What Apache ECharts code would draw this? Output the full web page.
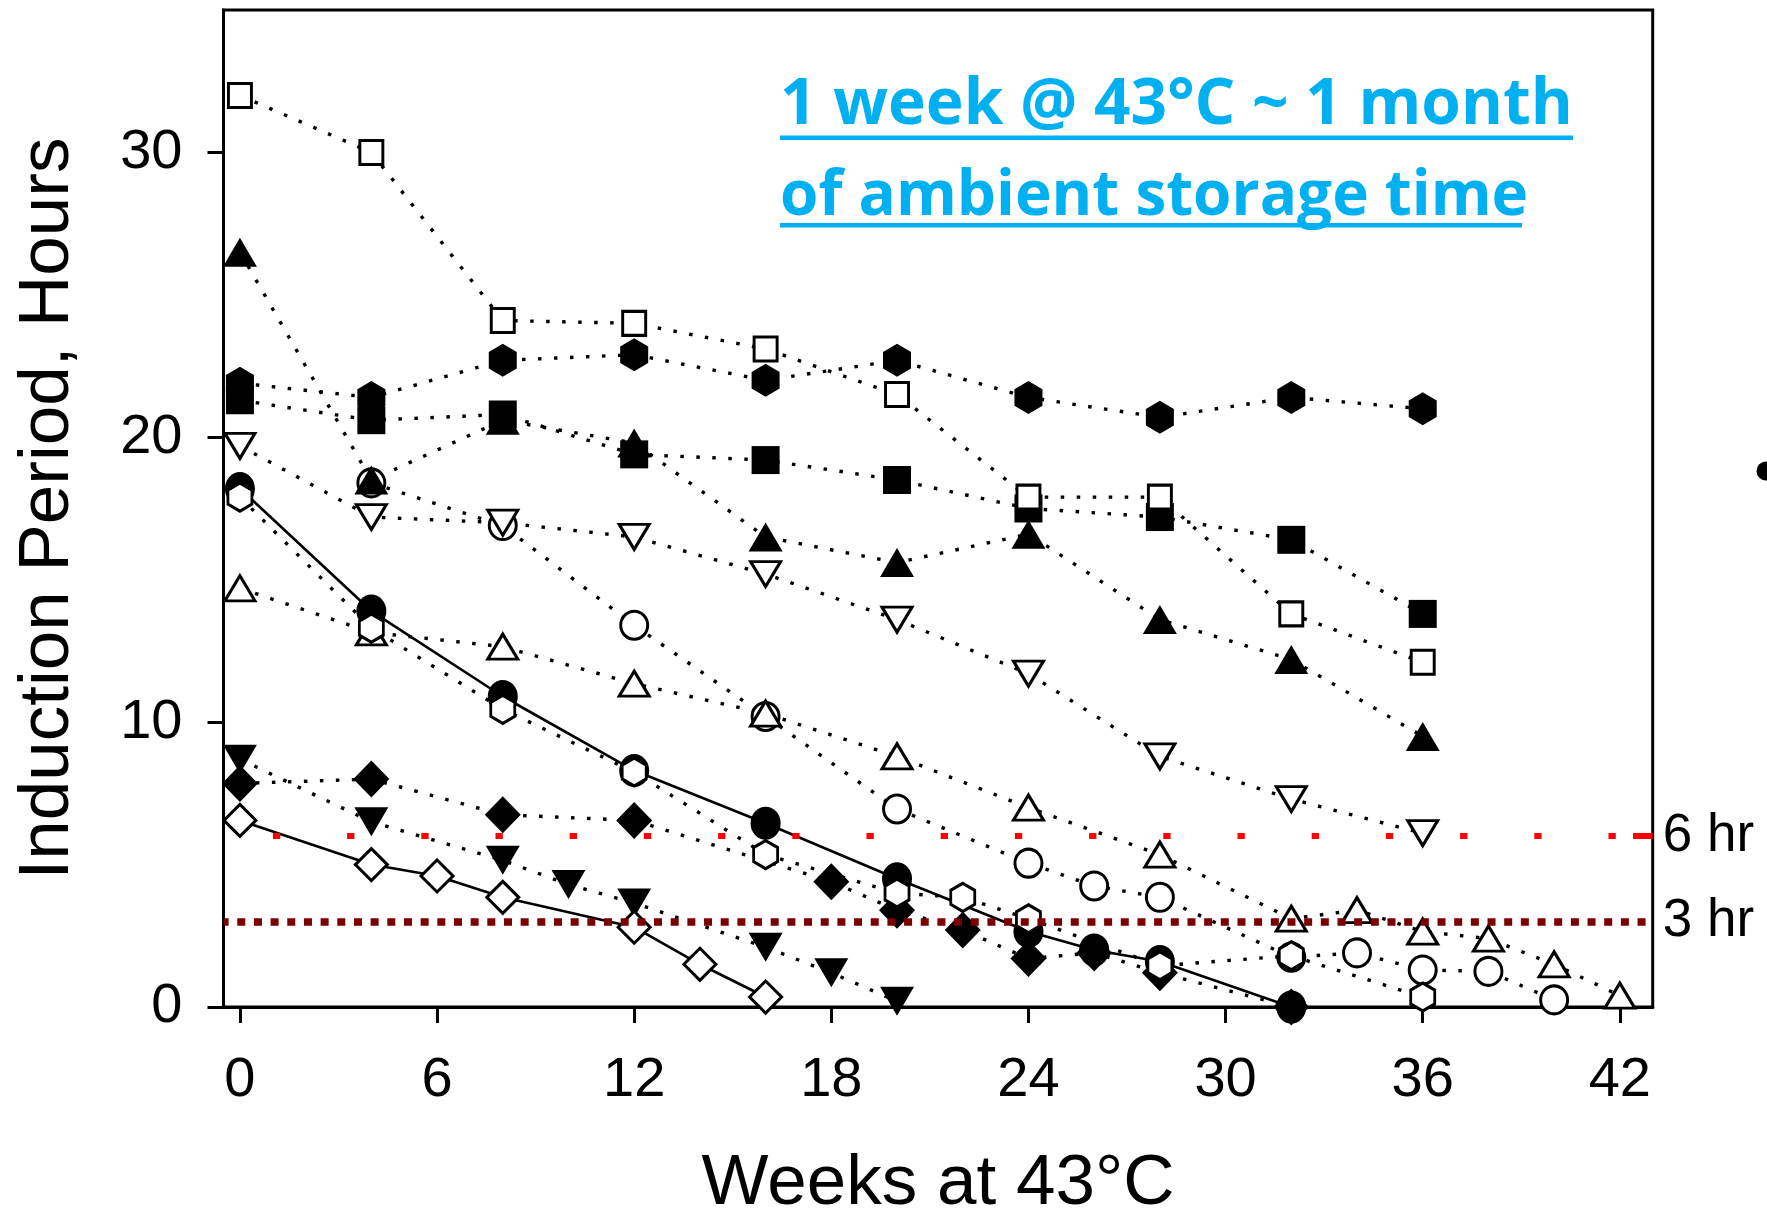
<!DOCTYPE html>
<html><head><meta charset="utf-8">
<script src="https://cdn.jsdelivr.net/npm/echarts@6/dist/echarts.min.js"></script>
<style>html,body{margin:0;padding:0;background:#fff}#c{width:1767px;height:1216px}</style>
</head><body><div id="c"></div>
<script>
// ---- data (weeks at 43°C, induction period in hours) ----
const xTicks = [0, 6, 12, 18, 24, 30, 36, 42];
const yTicks = [0, 10, 20, 30];

const sqOpenX = [0, 4, 8, 12, 16, 20, 24, 28, 32, 36];
const sqOpenY = [32.0, 30.0, 24.1, 24.0, 23.1, 21.5, 17.9, 17.9, 13.8, 12.1];

const hexFilledX = [0, 4, 8, 12, 16, 20, 24, 28, 32, 36];
const hexFilledY = [21.9, 21.4, 22.7, 22.9, 22.0, 22.7, 21.4, 20.7, 21.4, 21.0];

const sqFilledX = [0, 4, 8, 12, 16, 20, 24, 28, 32, 36];
const sqFilledY = [21.3, 20.6, 20.8, 19.4, 19.2, 18.5, 17.5, 17.2, 16.4, 13.8];

const triFilledX = [0, 4, 8, 12, 16, 20, 24, 28, 32, 36];
const triFilledY = [26.5, 18.5, 20.6, 19.8, 16.5, 15.6, 16.6, 13.6, 12.2, 9.5];

const invOpenX = [0, 4, 8, 12, 16, 20, 24, 28, 32, 36];
const invOpenY = [19.7, 17.2, 17.0, 16.5, 15.2, 13.6, 11.7, 8.8, 7.3, 6.1];

const circOpenX = [4, 8, 12, 16, 20, 24, 26, 28, 32, 34, 36, 38, 40];
const circOpenY = [18.4, 16.9, 13.4, 10.2, 6.95, 5.05, 4.25, 3.85, 1.75, 1.9, 1.3, 1.25, 0.25];

const circFilledX = [0, 4, 8, 12, 16, 20, 24, 26, 28, 32];
const circFilledY = [18.2, 13.9, 10.9, 8.3, 6.45, 4.5, 2.65, 2.0, 1.6, 0.0];

const hexOpenX = [0, 4, 8, 12, 16, 20, 22, 24, 28, 32, 36];
const hexOpenY = [17.9, 13.3, 10.45, 8.25, 5.35, 4.0, 3.85, 3.1, 1.45, 1.8, 0.35];

const triOpenX = [0, 4, 8, 12, 16, 20, 24, 28, 32, 34, 36, 38, 40, 42];
const triOpenY = [14.7, 13.15, 12.65, 11.35, 10.3, 8.8, 7.0, 5.35, 3.1, 3.4, 2.65, 2.4, 1.5, 0.4];

const invFilledX = [0, 4, 8, 10, 12, 16, 18, 20];
const invFilledY = [8.7, 6.5, 5.15, 4.3, 3.65, 2.1, 1.2, 0.2];

const diaFilledX = [0, 4, 8, 12, 18, 20, 22, 24, 26, 28, 32];
const diaFilledY = [7.85, 8.0, 6.75, 6.55, 4.4, 3.4, 2.7, 1.7, 1.9, 1.2, 0.0];

const diaOpenX = [0, 4, 6, 8, 12, 14, 16];
const diaOpenY = [6.55, 5.0, 4.6, 3.85, 2.8, 1.5, 0.35];

const refLines = [6, 3];
const refLabels = ['6 hr', '3 hr'];
const noteLines = ['1 week @ 43°C ~ 1 month', 'of ambient storage time'];

// ---- styling ----
const HEX = 'path://M0,-1L0.866,-0.5L0.866,0.5L0,1L-0.866,0.5L-0.866,-0.5Z';
const INV = 'path://M0,0L2,0L1,2Z';
const ELL = 'path://M1,0A1,1,0,1,1,-1,0A1,1,0,1,1,1,0Z';
const FONT = '"Liberation Sans", Arial, sans-serif';
const DOT = [3.5, 12.5];

function mk(name, xs, ys, symbol, size, open, solid) {
  return {
    type: 'line', name: name,
    data: xs.map((x, i) => [x, ys[i]]),
    symbol: symbol, symbolSize: size, showSymbol: true,
    itemStyle: open ? { color: '#fff', borderColor: '#000', borderWidth: 3 }
                    : { color: '#000', borderWidth: 0 },
    lineStyle: { color: '#000', width: solid ? 2.6 : 3.4, type: solid ? 'solid' : DOT, cap: 'butt' },
    emphasis: { disabled: true }, silent: true, clip: false, animation: false
  };
}

const series = [
  {
    type: 'line', name: 'ref', data: [], symbol: 'none', silent: true, animation: false,
    markLine: {
      silent: true, symbol: ['none', 'none'], animation: false,
      label: { show: true, position: 'end', distance: 10, color: '#000', fontSize: 53, fontFamily: FONT },
      data: [
        { yAxis: refLines[0], lineStyle: { color: '#ff0000', width: 6, type: [7.3, 66.9], dashOffset: 24.8 },
          label: { formatter: refLabels[0] } },
        { yAxis: refLines[1], lineStyle: { color: '#7b0000', width: 7.5, type: [8, 8.67], dashOffset: 2.9 },
          label: { formatter: refLabels[1] } },
        [ { coord: [42.4, refLines[0]], lineStyle: { color: '#ff0000', width: 6, type: 'solid' }, label: { show: false } },
          { coord: [43, refLines[0]] } ]
      ]
    }
  },
  mk('filled circle', circFilledX, circFilledY, ELL, [30, 33], false, true),
  mk('filled diamond', diaFilledX, diaFilledY, 'diamond', [36, 37], false, false),
  mk('filled inverted triangle', invFilledX, invFilledY, INV, [34, 29], false, false),
  mk('open circle', circOpenX, circOpenY, ELL, [27, 28], true, false),
  mk('open triangle', triOpenX, triOpenY, 'triangle', [30, 25], true, false),
  mk('open inverted triangle', invOpenX, invOpenY, INV, [30, 25], true, false),
  mk('filled hexagon', hexFilledX, hexFilledY, HEX, [28, 33], false, false),
  mk('filled square', sqFilledX, sqFilledY, 'rect', [28, 28], false, false),
  mk('open square', sqOpenX, sqOpenY, 'rect', [23, 24], true, false),
  mk('filled triangle', triFilledX, triFilledY, 'triangle', [34, 29], false, false),
  mk('open hexagon', hexOpenX, hexOpenY, HEX, [24, 28], true, false),
  mk('open diamond', diaOpenX, diaOpenY, 'diamond', [32, 32], true, true)
];

const chart = echarts.init(document.getElementById('c'), null, { renderer: 'canvas' });
chart.setOption({
  animation: false,
  backgroundColor: '#fff',
  grid: { left: 223.5, right: 114.3, top: 10, bottom: 209, containLabel: false, outerBoundsMode: 'none',
          show: true, borderColor: '#000', borderWidth: 3, backgroundColor: 'transparent' },
  xAxis: {
    type: 'value', min: -0.5, max: 43,
    axisLine: { show: true, onZero: false, lineStyle: { color: '#000', width: 3 } },
    axisTick: { show: true, customValues: xTicks, length: 16, lineStyle: { color: '#000', width: 3 } },
    axisLabel: { customValues: xTicks, fontSize: 56, fontFamily: FONT, color: '#000', margin: 46 },
    splitLine: { show: false },
    name: 'Weeks at 43°C', nameLocation: 'middle', nameGap: 142,
    nameTextStyle: { fontSize: 71, fontFamily: FONT, color: '#000' }
  },
  yAxis: {
    type: 'value', min: 0, max: 35,
    axisLine: { show: true, onZero: false, lineStyle: { color: '#000', width: 3 } },
    axisTick: { show: true, customValues: yTicks, length: 16, lineStyle: { color: '#000', width: 3 } },
    axisLabel: { customValues: yTicks, fontSize: 56, fontFamily: FONT, color: '#000', margin: 41 },
    splitLine: { show: false },
    name: 'Induction Period, Hours', nameLocation: 'middle', nameGap: 140,
    nameTextStyle: { fontSize: 71, fontFamily: FONT, color: '#000' }
  },
  graphic: [
    { type: 'text', x: 780, y: 106, silent: true,
      style: { text: noteLines[0], fill: '#00b0f0', font: 'bold 64px "Open Sans", sans-serif', verticalAlign: 'middle', align: 'left' } },
    { type: 'text', x: 780, y: 197, silent: true,
      style: { text: noteLines[1], fill: '#00b0f0', font: 'bold 62px "Open Sans", sans-serif', verticalAlign: 'middle', align: 'left' } },
    { type: 'rect', silent: true, shape: { x: 780, y: 135.5, width: 793, height: 4.5 }, style: { fill: '#00b0f0' } },
    { type: 'rect', silent: true, shape: { x: 780, y: 223, width: 742, height: 4.5 }, style: { fill: '#00b0f0' } },
    { type: 'circle', silent: true, shape: { cx: 1766, cy: 471, r: 9.5 }, style: { fill: '#000' } }
  ],
  series: series
});
</script></body></html>
